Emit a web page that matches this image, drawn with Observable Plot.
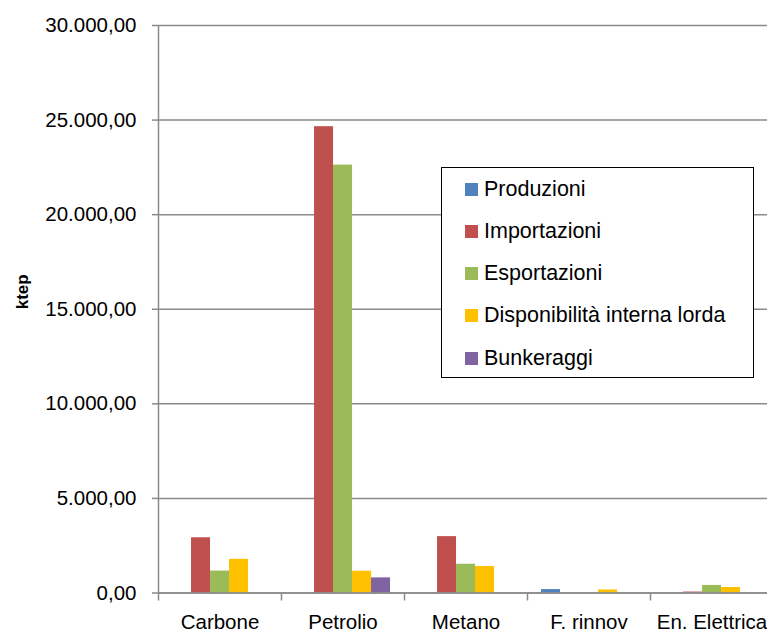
<!DOCTYPE html>
<html><head><meta charset="utf-8">
<script src="https://cdn.jsdelivr.net/npm/d3@7"></script>
<script src="https://cdn.jsdelivr.net/npm/@observablehq/plot@0.6"></script>
<style>
html,body{margin:0;padding:0;background:#fff;overflow:hidden;}
#wrap{position:relative;width:767px;height:632px;overflow:hidden;font-family:"Liberation Sans",Arial,sans-serif;}
#wrap svg{max-width:none !important;width:790px !important;height:632px !important;}
#legend{position:absolute;left:441px;top:167px;width:311px;height:209px;border:1.5px solid #000;background:#fff;}
.item{position:absolute;left:23px;height:24px;display:flex;align-items:center;font-size:21.5px;color:#000;white-space:nowrap;}
.sw{width:13px;height:13px;margin-right:6px;flex:none;}
</style></head>
<body><div id="wrap"></div>
<script>
const categories = ["Carbone", "Petrolio", "Metano", "F. rinnov", "En. Elettrica"];
const series = ["Produzioni", "Importazioni", "Esportazioni", "Disponibilità interna lorda", "Bunkeraggi"];
const colors = ["#4F81BD", "#C0504D", "#9BBB59", "#FFC000", "#8064A2"];
const produzioni    = [0, 0, 0, 180, 0];
const importazioni  = [2920, 24650, 2980, 0, 50];
const esportazioni  = [1160, 22620, 1520, 0, 400];
const disponibilita = [1780, 1150, 1400, 160, 290];
const bunkeraggi    = [0, 800, 0, 0, 0];
const yTicks = [0, 5000, 10000, 15000, 20000, 25000, 30000];

const valuesBySeries = [produzioni, importazioni, esportazioni, disponibilita, bunkeraggi];
const data = [];
categories.forEach((c, i) => series.forEach((s, j) => data.push({cat: c, ci: i, s, sj: j, v: valuesBySeries[j][i]})));

const it = d3.formatLocale({decimal: ",", thousands: ".", grouping: [3], currency: ["€", ""]});
const fmt = it.format(",.2f");

// layout within a category group (fractions of one group)
const pad = 0.114, bw = 0.1545;
const grey = "#8a8a8a";

const chart = Plot.plot({
  width: 790, height: 632,
  marginLeft: 158, marginRight: 17, marginTop: 25, marginBottom: 39.5,
  style: {fontFamily: "Liberation Sans, Arial, sans-serif", fontSize: "20px", color: "#000", background: "#fff"},
  x: {type: "linear", domain: [0, categories.length], axis: null},
  y: {domain: [0, 30000], axis: null},
  color: {domain: series, range: colors},
  marks: [
    Plot.ruleY(yTicks, {stroke: grey, strokeWidth: 1.5}),
    Plot.rectY(data.filter(d => d.v > 0), {
      x1: d => d.ci + pad + d.sj * bw,
      x2: d => d.ci + pad + (d.sj + 1) * bw,
      y1: 0, y2: "v", fill: "s"
    }),
    Plot.ruleY([0], {stroke: grey, strokeWidth: 1.5}),
    Plot.axisY({ticks: yTicks, tickFormat: fmt, tickSize: 6, tickPadding: 16, stroke: grey, strokeWidth: 1.5, fontSize: 20.5, label: null}),
    Plot.ruleX([0], {stroke: grey, strokeWidth: 1.5}),
    Plot.axisX({ticks: d3.range(categories.length + 1), tickFormat: () => "", tickSize: 8, stroke: grey, strokeWidth: 1.5, label: null}),
    Plot.axisX({ticks: categories.map((c, i) => i + 0.5), tickFormat: t => categories[Math.round(t - 0.5)], tickSize: 0, tickPadding: 21, fontSize: 20.5, label: null}),
    Plot.text(["ktep"], {frameAnchor: "left", rotate: -90, dx: -136, fontWeight: "bold", fontSize: 17})
  ]
});
const wrap = document.getElementById("wrap");
wrap.appendChild(chart);

const legend = document.createElement("div");
legend.id = "legend";
const cs = chart.scale("color");
const tops = [9, 51, 93, 135, 178];
cs.domain.forEach((s, j) => {
  const it = document.createElement("div");
  it.className = "item";
  it.style.top = tops[j] + "px";
  const sw = document.createElement("span");
  sw.className = "sw";
  sw.style.background = cs.range[j];
  it.appendChild(sw);
  it.appendChild(document.createTextNode(s));
  legend.appendChild(it);
});
wrap.appendChild(legend);
</script></body></html>
